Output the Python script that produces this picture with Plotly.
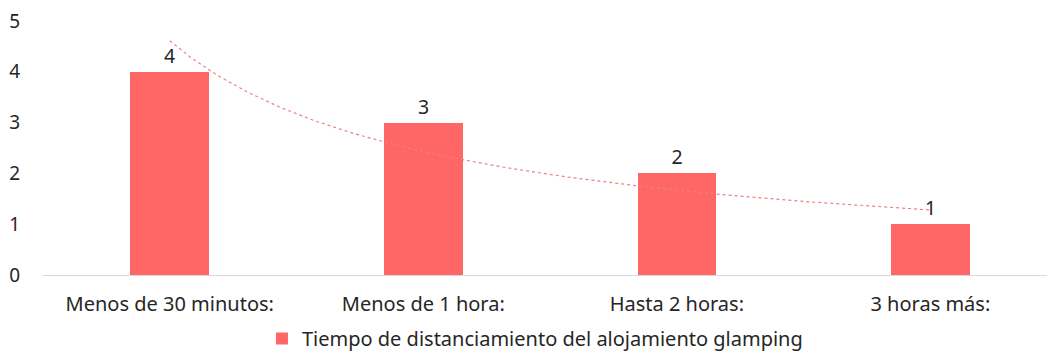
import numpy as np
import plotly.graph_objects as go

categories = ["Menos de 30 minutos:", "Menos de 1 hora:", "Hasta 2 horas:", "3 horas más:"]
values = [4, 3, 2, 1]
series_name = "Tiempo de distanciamiento del alojamiento glamping"
y_ticks = [0, 1, 2, 3, 4, 5]

pos = np.arange(len(categories))

# Power trendline (as in the spreadsheet chart), fitted on the data
xs = pos + 1
b, a = np.polyfit(np.log(xs), np.log(values), 1)
tx = np.linspace(1, len(categories), 120)
ty = np.exp(a) * tx ** b

FONT = "Noto Sans"
TXT = "#262626"

fig = go.Figure()
fig.add_trace(go.Bar(
    x=pos, y=values, name=series_name,
    marker=dict(color="#FF6666", line=dict(width=0)),
    width=0.31,
    text=[str(v) for v in values], textposition="outside",
    textfont=dict(family=FONT, size=19.5, color=TXT),
    cliponaxis=False,
))
fig.add_trace(go.Scatter(
    x=tx - 1, y=ty, mode="lines",
    line=dict(color="#F08080", width=1.2, dash="dot"),
    showlegend=False, hoverinfo="skip",
))

fig.update_layout(
    width=1047, height=358,
    margin=dict(l=43, r=0, t=21, b=79),
    paper_bgcolor="white", plot_bgcolor="white",
    font=dict(family=FONT, size=18, color=TXT),
    bargap=0,
    showlegend=True,
    legend=dict(orientation="h", x=0.49, xanchor="center", y=-0.25, yanchor="middle",
                font=dict(family=FONT, size=20, color=TXT), itemwidth=30),
    xaxis=dict(range=[-0.5, 3.46], tickmode="array", tickvals=pos, ticktext=categories,
               showgrid=False, zeroline=False, showline=True, linecolor="#D9D9D9", linewidth=1,
               ticks="outside", ticklen=11, tickcolor="rgba(0,0,0,0)",
               tickfont=dict(family=FONT, size=20, color=TXT)),
    yaxis=dict(range=[0, 5], tickmode="array", tickvals=y_ticks,
               showgrid=False, zeroline=False, showline=False,
               ticks="outside", ticklen=18, tickcolor="rgba(0,0,0,0)",
               tickfont=dict(family=FONT, size=19, color=TXT)),
)

fig.write_html("out.html")
